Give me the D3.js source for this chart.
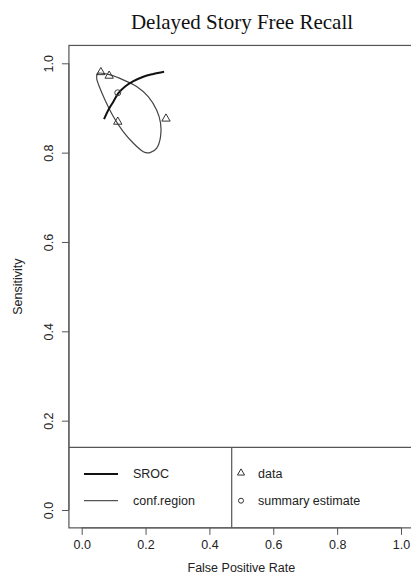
<!DOCTYPE html>
<html><head><meta charset="utf-8">
<script src="https://cdn.jsdelivr.net/npm/d3@7"></script>
<style>body{margin:0;background:#fff}svg{display:block}</style>
</head><body>
<svg id="c" width="411" height="577"></svg>
<script>
const title = "Delayed Story Free Recall";
const xTicks = [0, 0.2, 0.4, 0.6, 0.8, 1.0];
const yTicks = [0, 0.2, 0.4, 0.6, 0.8, 1.0];
// study data (fpr, sens)
const dataFpr = [0.060, 0.086, 0.113, 0.264];
const dataSens = [0.980, 0.972, 0.869, 0.876];
// summary estimate
const sumFpr = [0.113];
const sumSens = [0.934];
// SROC curve
const srocFpr = [0.070, 0.083, 0.099, 0.115, 0.136, 0.162, 0.193, 0.224, 0.258];
const srocSens = [0.875, 0.895, 0.914, 0.933, 0.948, 0.960, 0.970, 0.976, 0.981];
// confidence region
const ellFpr = [0.047, 0.052, 0.089, 0.130, 0.172, 0.209, 0.235, 0.247, 0.247, 0.235, 0.214, 0.193, 0.162, 0.130, 0.099, 0.073, 0.055];
const ellSens = [0.966, 0.978, 0.974, 0.963, 0.948, 0.925, 0.895, 0.866, 0.836, 0.810, 0.800, 0.802, 0.821, 0.847, 0.881, 0.918, 0.948];
const legendLeft = ["SROC", "conf.region"];
const legendRight = ["data", "summary estimate"];

const svg = d3.select("#c");
const x = d3.scaleLinear().domain([0, 1]).range([81.7, 401]);
const y = d3.scaleLinear().domain([0, 1]).range([510, 63.3]);
const box = {l: x(-0.04), r: x(1.04), t: y(1.04), b: y(-0.04)};
const axisCol = "#555";
const font = "'Liberation Sans', Arial, sans-serif";

svg.append("text").attr("x", 242).attr("y", 29).attr("text-anchor", "middle")
  .attr("font-family", "'Liberation Serif', 'Times New Roman', serif").attr("font-size", 21)
  .attr("fill", "#111").text(title);

// axes
const xa = svg.append("g").attr("transform", `translate(0,${box.b})`)
  .call(d3.axisBottom(x).tickValues(xTicks).tickFormat(d3.format(".1f")).tickSize(7).tickPadding(5));
xa.select(".domain").attr("d", `M${x(0)},0H${x(1)}`);
const ya = svg.append("g").attr("transform", `translate(${box.l},0)`)
  .call(d3.axisLeft(y).tickValues(yTicks).tickFormat(d3.format(".1f")).tickSize(7).tickPadding(5));
ya.select(".domain").attr("d", `M0,${y(0)}V${y(1)}`);
[xa, ya].forEach(g => {
  g.selectAll("path,line").attr("stroke", axisCol);
  g.selectAll("text").attr("font-family", font).attr("font-size", 12.5).attr("fill", "#222");
});
ya.selectAll(".tick text").attr("text-anchor", "middle").attr("x", 0)
  .attr("transform", "translate(-20.5,0) rotate(-90)").attr("dy", "0.35em");

svg.append("text").attr("x", (x(0)+x(1))/2).attr("y", 572).attr("text-anchor", "middle")
  .attr("font-family", font).attr("font-size", 12.5).attr("fill", "#222").text("False Positive Rate");
svg.append("text").attr("transform", `translate(22,${(box.t+box.b)/2}) rotate(-90)`).attr("text-anchor", "middle")
  .attr("font-family", font).attr("font-size", 12.5).attr("fill", "#222").text("Sensitivity");

// box
svg.append("rect").attr("x", box.l).attr("y", box.t).attr("width", box.r - box.l).attr("height", box.b - box.t)
  .attr("fill", "none").attr("stroke", axisCol).attr("stroke-width", 1.2);

// ellipse
const ell = ellFpr.map((f, i) => [f, ellSens[i]]);
svg.append("path").attr("d", d3.line().x(d => x(d[0])).y(d => y(d[1])).curve(d3.curveCardinalClosed.tension(0.2))(ell))
  .attr("fill", "none").attr("stroke", "#444").attr("stroke-width", 1.2);
// SROC
const sroc = srocFpr.map((f, i) => [f, srocSens[i]]);
svg.append("path").attr("d", d3.line().x(d => x(d[0])).y(d => y(d[1])).curve(d3.curveCatmullRom)(sroc))
  .attr("fill", "none").attr("stroke", "#111").attr("stroke-width", 2);
// data triangles
const tri = d3.symbol().type(d3.symbolTriangle).size(30);
svg.selectAll(".pt").data(dataFpr.map((f, i) => [f, dataSens[i]])).join("path")
  .attr("transform", d => `translate(${x(d[0])},${y(d[1])})`).attr("d", tri)
  .attr("fill", "none").attr("stroke", "#333").attr("stroke-width", 1);
// summary
svg.selectAll(".sm").data(sumFpr.map((f, i) => [f, sumSens[i]])).join("circle")
  .attr("cx", d => x(d[0])).attr("cy", d => y(d[1])).attr("r", 3)
  .attr("fill", "none").attr("stroke", "#444").attr("stroke-width", 1);

// legend
const lgTop = 447.3, lgDiv = 231.7;
svg.append("line").attr("x1", box.l).attr("x2", box.r).attr("y1", lgTop).attr("y2", lgTop).attr("stroke", axisCol).attr("stroke-width", 1.2);
svg.append("line").attr("x1", lgDiv).attr("x2", lgDiv).attr("y1", lgTop).attr("y2", box.b).attr("stroke", axisCol).attr("stroke-width", 1.2);
const rowY = [474, 500.7];
legendLeft.forEach((t, i) => {
  svg.append("line").attr("x1", 84).attr("x2", 118).attr("y1", rowY[i]).attr("y2", rowY[i])
    .attr("stroke", i === 0 ? "#111" : "#555").attr("stroke-width", i === 0 ? 2 : 1.2);
  svg.append("text").attr("x", 133).attr("y", rowY[i]).attr("dy", "0.35em")
    .attr("font-family", font).attr("font-size", 12.5).attr("fill", "#222").text(t);
});
svg.append("path").attr("transform", `translate(241,${rowY[0] - 1})`).attr("d", d3.symbol().type(d3.symbolTriangle).size(22)())
  .attr("fill", "none").attr("stroke", "#333").attr("stroke-width", 1);
svg.append("circle").attr("cx", 241).attr("cy", rowY[1]).attr("r", 2.5).attr("fill", "none").attr("stroke", "#333").attr("stroke-width", 1);
legendRight.forEach((t, i) => {
  svg.append("text").attr("x", 258).attr("y", rowY[i]).attr("dy", "0.35em")
    .attr("font-family", font).attr("font-size", 12.5).attr("fill", "#222").text(t);
});
</script>
</body></html>
